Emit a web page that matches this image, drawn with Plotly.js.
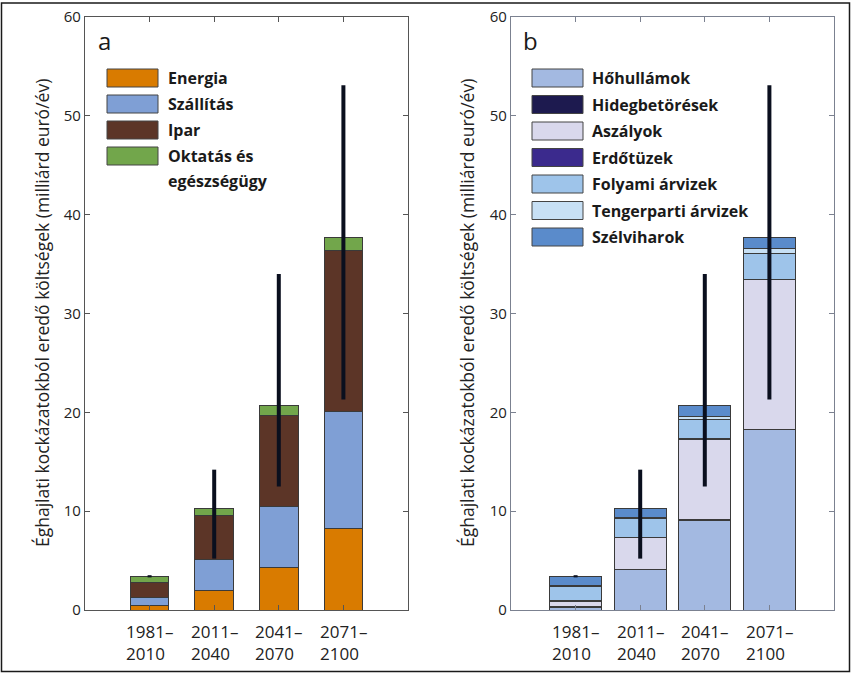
<!DOCTYPE html>
<html>
<head>
<meta charset="utf-8">
<script src="https://cdn.plot.ly/plotly-3.0.1.min.js"></script>
<style>
  html, body { margin: 0; padding: 0; background: #fff; }
  #chart { width: 851px; height: 673px; }
</style>
</head>
<body>
<div id="chart"></div>
<script>
// Time periods (x positions) and their two-line labels
const periods = [1, 2, 3, 4];
const periodLabels = ['1981–<br>2010', '2011–<br>2040', '2041–<br>2070', '2071–<br>2100'];

// Panel a: costs by sector (billion euro / year)
const energia   = [0.45, 1.96, 4.32, 8.20];
const szallitas = [0.80, 3.13, 6.14, 11.87];
const ipar      = [1.58, 4.46, 9.21, 16.27];
const oktatas   = [0.58, 0.75, 0.98, 1.34];

// Panel b: costs by hazard (billion euro / year)
const hohullamok     = [0.30, 4.05, 9.10, 18.25];
const hidegbetoresek = [0.10, 0.07, 0.05, 0.05];
const aszalyok       = [0.50, 3.20, 8.15, 15.10];
const erdotuzek      = [0.05, 0.03, 0.05, 0.05];
const folyamiArvizek = [1.45, 1.95, 1.95, 2.65];
const tengerpartiArv = [0.05, 0.05, 0.30, 0.45];
const szelviharok    = [0.96, 0.95, 1.05, 1.13];

// Uncertainty range of the total
const rangeLow  = [3.30, 5.20, 12.50, 21.30];
const rangeHigh = [3.52, 14.20, 34.00, 53.10];

const sectorNames  = ['Energia', 'Szállítás', 'Ipar', 'Oktatás és<br>egészségügy'];
const sectorValues = [energia, szallitas, ipar, oktatas];
const sectorColors = ['#D97B00', '#7F9FD5', '#5C3527', '#72A64B'];

const hazardNames  = ['Hőhullámok', 'Hidegbetörések', 'Aszályok', 'Erdőtüzek',
                      'Folyami árvizek', 'Tengerparti árvizek', 'Szélviharok'];
const hazardValues = [hohullamok, hidegbetoresek, aszalyok, erdotuzek,
                      folyamiArvizek, tengerpartiArv, szelviharok];
const hazardColors = ['#A3B9E1', '#1D1A4F', '#D9D8EC', '#3B2A8D',
                      '#9EC4EA', '#C7E0F5', '#5A8BCB'];

const W = 851, H = 673;
const px = v => v / W;          // pixel -> paper x
const py = v => 1 - v / H;      // pixel -> paper y

const FONT = 'Open Sans, Noto Sans, sans-serif';
const edge = { color: '#3a3a3a', width: 1 };

const traces = [];

sectorValues.forEach((vals, i) => {
  traces.push({
    type: 'bar', x: periods, y: vals, name: sectorNames[i],
    xaxis: 'x', yaxis: 'y', width: 0.6,
    marker: { color: sectorColors[i], line: edge },
    showlegend: false, hoverinfo: 'y'
  });
});

hazardValues.forEach((vals, i) => {
  traces.push({
    type: 'bar', x: periods, y: vals, name: hazardNames[i],
    xaxis: 'x2', yaxis: 'y2', width: 0.8,
    marker: { color: hazardColors[i], line: edge },
    showlegend: false, hoverinfo: 'y'
  });
});

// Totals and the uncertainty whiskers on top of each stack
function totals(groups) {
  return periods.map((_, k) => groups.reduce((s, arr) => s + arr[k], 0));
}
function whisker(tot, xa, ya) {
  return {
    type: 'scatter', mode: 'markers', x: periods, y: tot,
    xaxis: xa, yaxis: ya, showlegend: false, hoverinfo: 'skip',
    marker: { size: 1, color: 'rgba(0,0,0,0)' },
    error_y: {
      type: 'data', symmetric: false,
      array: tot.map((t, k) => rangeHigh[k] - t),
      arrayminus: tot.map((t, k) => t - rangeLow[k]),
      color: '#0A0F1E', thickness: 4, width: 0
    }
  };
}
traces.push(whisker(totals(sectorValues), 'x', 'y'));
traces.push(whisker(totals(hazardValues), 'x2', 'y2'));

// Boxed legends drawn as shapes + text
const shapes = [];
const annotations = [];

function boxLegend(names, colors, boxX0, boxX1, rowY0, pitch, textX, linePitch) {
  names.forEach((nm, i) => {
    const cy = rowY0 + i * pitch;
    shapes.push({
      type: 'rect', xref: 'paper', yref: 'paper',
      x0: px(boxX0), x1: px(boxX1), y0: py(cy - 9), y1: py(cy + 9),
      fillcolor: colors[i], line: { color: '#444', width: 1 }
    });
    nm.split('<br>').forEach((ln, j) => {
      annotations.push({
        xref: 'paper', yref: 'paper', x: px(textX), y: py(cy + j * linePitch),
        xanchor: 'left', yanchor: 'middle', showarrow: false, text: ln,
        font: { family: FONT, size: 16, color: '#1a1a1a', weight: 'bold' }
      });
    });
  });
}
boxLegend(sectorNames, sectorColors, 107, 158, 78, 26, 166, 25);
boxLegend(hazardNames, hazardColors, 532, 583, 78, 26.5, 590, 25);

// Panel letters
annotations.push({ xref: 'paper', yref: 'paper', x: px(96), y: py(40),
  xanchor: 'left', yanchor: 'middle', showarrow: false, text: 'a',
  font: { family: FONT, size: 24, color: '#1a1a1a' } });
annotations.push({ xref: 'paper', yref: 'paper', x: px(521), y: py(40),
  xanchor: 'left', yanchor: 'middle', showarrow: false, text: 'b',
  font: { family: FONT, size: 24, color: '#1a1a1a' } });

// Period labels under each panel, left-aligned lines
['x', 'x2'].forEach(xa => {
  periods.forEach((p, k) => {
    annotations.push({
      xref: xa, yref: 'paper', x: p, y: py(618),
      xanchor: 'center', yanchor: 'top', align: 'left', showarrow: false,
      text: periodLabels[k],
      font: { family: FONT, size: 17, color: '#222' }
    });
  });
});

// Y axis titles (one per panel)
const yTitle = 'Éghajlati kockázatokból eredő költségek (milliárd euró/év)';
[42, 467].forEach(cx => {
  annotations.push({
    xref: 'paper', yref: 'paper', x: px(cx), y: py(313),
    xanchor: 'center', yanchor: 'middle', textangle: -90, showarrow: false,
    text: yTitle, font: { family: FONT, size: 17.5, color: '#222' }
  });
});

// Outer frame
shapes.push({ type: 'rect', xref: 'paper', yref: 'paper',
  x0: px(1.5), x1: px(849.5), y0: py(671.5), y1: py(3),
  line: { color: '#1a1a1a', width: 1.5 }, fillcolor: 'rgba(0,0,0,0)' });

const yDomain = [py(610), py(17)];

function xAxis(domain, color) {
  return {
    domain: domain, range: [0, 5], tickvals: periods, ticktext: ['', '', '', ''],
    showticklabels: false, ticks: 'inside', ticklen: 5, tickcolor: color,
    showline: true, linecolor: color, linewidth: 1.2, mirror: 'ticks',
    showgrid: false, zeroline: false, fixedrange: true
  };
}
function yAxis(anchor, color) {
  return {
    domain: yDomain, anchor: anchor, range: [0, 60], tickvals: [0, 10, 20, 30, 40, 50, 60],
    ticks: 'inside', ticklen: 5, tickcolor: color,
    showline: true, linecolor: color, linewidth: 1.2, mirror: 'ticks',
    showgrid: false, zeroline: false, fixedrange: true,
    tickfont: { family: FONT, size: 15, color: '#222' }
  };
}

const layout = {
  width: W, height: H,
  margin: { l: 0, r: 0, t: 0, b: 0 },
  paper_bgcolor: '#fff', plot_bgcolor: '#fff',
  barmode: 'stack', showlegend: false,
  xaxis: Object.assign(xAxis([px(85), px(408)], '#555'), { anchor: 'y' }),
  yaxis: yAxis('x', '#555'),
  xaxis2: Object.assign(xAxis([px(511), px(834)], '#7b8190'), { anchor: 'y2' }),
  yaxis2: yAxis('x2', '#7b8190'),
  shapes: shapes,
  annotations: annotations,
  font: { family: FONT }
};

Plotly.newPlot('chart', traces, layout, { displayModeBar: false, staticPlot: true });
</script>
</body>
</html>
